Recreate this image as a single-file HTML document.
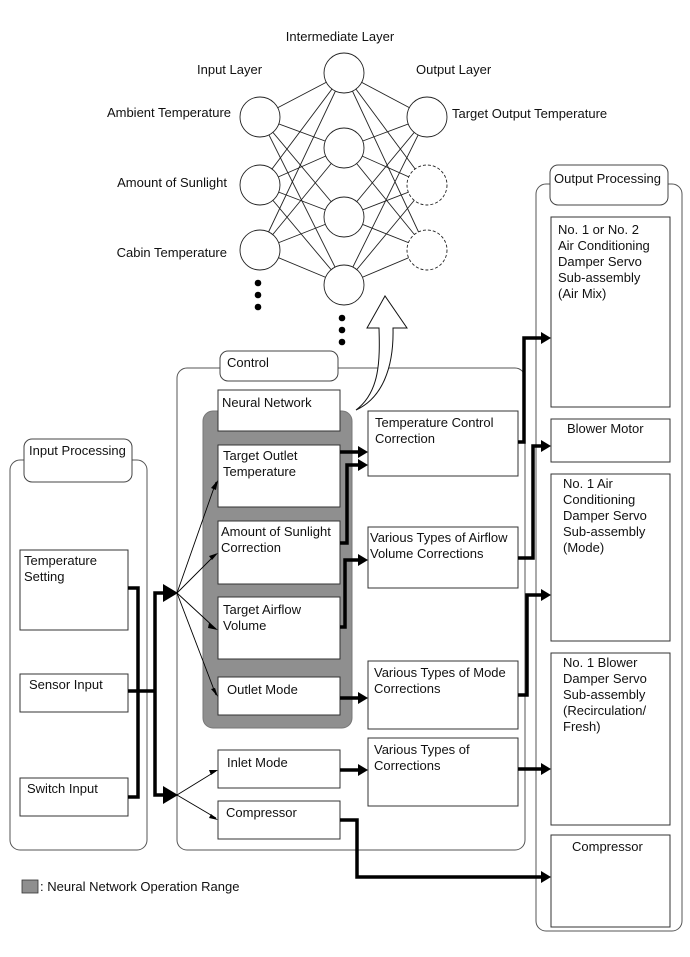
<!DOCTYPE html>
<html><head><meta charset="utf-8"><style>
body{margin:0;background:#fff}
svg text{font-family:"Liberation Sans",Arial,sans-serif;font-size:13px;fill:#111}
</style></head><body>
<svg width="690" height="952" viewBox="0 0 690 952" xmlns="http://www.w3.org/2000/svg">
<g stroke="#222" stroke-width="0.9">
<g id="conn">
<line x1="260" y1="117" x2="344" y2="73"/><line x1="260" y1="117" x2="344" y2="148"/><line x1="260" y1="117" x2="344" y2="217"/><line x1="260" y1="117" x2="344" y2="285"/>
<line x1="260" y1="185" x2="344" y2="73"/><line x1="260" y1="185" x2="344" y2="148"/><line x1="260" y1="185" x2="344" y2="217"/><line x1="260" y1="185" x2="344" y2="285"/>
<line x1="260" y1="250" x2="344" y2="73"/><line x1="260" y1="250" x2="344" y2="148"/><line x1="260" y1="250" x2="344" y2="217"/><line x1="260" y1="250" x2="344" y2="285"/>
<line x1="427" y1="117" x2="344" y2="73"/><line x1="427" y1="117" x2="344" y2="148"/><line x1="427" y1="117" x2="344" y2="217"/><line x1="427" y1="117" x2="344" y2="285"/>
<line x1="427" y1="185" x2="344" y2="73"/><line x1="427" y1="185" x2="344" y2="148"/><line x1="427" y1="185" x2="344" y2="217"/><line x1="427" y1="185" x2="344" y2="285"/>
<line x1="427" y1="250" x2="344" y2="73"/><line x1="427" y1="250" x2="344" y2="148"/><line x1="427" y1="250" x2="344" y2="217"/><line x1="427" y1="250" x2="344" y2="285"/>
</g>
<g fill="#fff">
<circle cx="260" cy="117" r="20"/><circle cx="260" cy="185" r="20"/><circle cx="260" cy="250" r="20"/>
<circle cx="344" cy="73" r="20"/><circle cx="344" cy="148" r="20"/><circle cx="344" cy="217" r="20"/><circle cx="344" cy="285" r="20"/>
<circle cx="427" cy="117" r="20"/>
<circle cx="427" cy="185" r="20" stroke-dasharray="3,2"/><circle cx="427" cy="250" r="20" stroke-dasharray="3,2"/>
</g>
</g>
<g fill="#000">
<circle cx="258" cy="283" r="3.3"/><circle cx="258" cy="295" r="3.3"/><circle cx="258" cy="307" r="3.3"/>
<circle cx="342" cy="318" r="3.3"/><circle cx="342" cy="330" r="3.3"/><circle cx="342" cy="342" r="3.3"/>
</g>
<text x="340" y="41" text-anchor="middle">Intermediate Layer</text>
<text x="197" y="74">Input Layer</text>
<text x="416" y="74">Output Layer</text>
<text x="231" y="117" text-anchor="end">Ambient Temperature</text>
<text x="227" y="187" text-anchor="end">Amount of Sunlight</text>
<text x="227" y="257" text-anchor="end">Cabin Temperature</text>
<text x="452" y="118">Target Output Temperature</text>

<g fill="none" stroke="#555" stroke-width="1">
<rect x="10" y="460" width="137" height="390" rx="10"/>
<rect x="177" y="368" width="348" height="482" rx="10"/>
<rect x="536" y="184" width="146" height="747" rx="10"/>
</g>
<g fill="#fff" stroke="#444" stroke-width="1">
<rect x="24" y="439" width="108" height="43" rx="8"/>
<rect x="220" y="351" width="118" height="30" rx="8"/>
<rect x="550" y="165" width="118" height="40" rx="8"/>
</g>
<text x="29" y="455">Input Processing</text>
<text x="227" y="367">Control</text>
<text x="554" y="183">Output Processing</text>

<rect x="203" y="411" width="149" height="317" rx="10" fill="#8f8f8f" stroke="#777"/>
<rect x="22" y="880" width="16" height="13" fill="#8f8f8f" stroke="#333" stroke-width="0.8"/>
<text x="40" y="891">: Neural Network Operation Range</text>

<path d="M356,410 C380,392 380,360 379,328 L367,328 L385,296 L407,328 L393,328 C394,368 382,398 356,410 Z" fill="#fff" stroke="#111" stroke-width="1"/>

<g fill="#fff" stroke="#333" stroke-width="1">
<rect x="20" y="550" width="108" height="80"/>
<rect x="20" y="674" width="108" height="38"/>
<rect x="20" y="778" width="108" height="38"/>
<rect x="218" y="390" width="122" height="41"/>
<rect x="218" y="445" width="122" height="62"/>
<rect x="218" y="521" width="122" height="63"/>
<rect x="218" y="597" width="122" height="62"/>
<rect x="218" y="677" width="122" height="38"/>
<rect x="218" y="750" width="122" height="38"/>
<rect x="218" y="801" width="122" height="38"/>
<rect x="368" y="411" width="150" height="65"/>
<rect x="368" y="527" width="150" height="61"/>
<rect x="368" y="661" width="150" height="68"/>
<rect x="368" y="738" width="150" height="68"/>
<rect x="551" y="217" width="119" height="190"/>
<rect x="551" y="419" width="119" height="43"/>
<rect x="551" y="474" width="119" height="167"/>
<rect x="551" y="653" width="119" height="172"/>
<rect x="551" y="835" width="119" height="92"/>
</g>
<text x="24" y="565">Temperature</text><text x="24" y="581">Setting</text>
<text x="29" y="689">Sensor Input</text>
<text x="27" y="793">Switch Input</text>
<text x="222" y="407">Neural Network</text>
<text x="223" y="460">Target Outlet</text><text x="223" y="476">Temperature</text>
<text x="221" y="536">Amount of Sunlight</text><text x="221" y="552">Correction</text>
<text x="223" y="614">Target Airflow</text><text x="223" y="630">Volume</text>
<text x="227" y="694">Outlet Mode</text>
<text x="227" y="767">Inlet Mode</text>
<text x="226" y="817">Compressor</text>
<text x="375" y="427">Temperature Control</text><text x="375" y="443">Correction</text>
<text x="370" y="542">Various Types of Airflow</text><text x="370" y="558">Volume Corrections</text>
<text x="374" y="677">Various Types of Mode</text><text x="374" y="693">Corrections</text>
<text x="374" y="754">Various Types of</text><text x="374" y="770">Corrections</text>
<text x="558" y="234">No. 1 or No. 2</text><text x="558" y="250">Air Conditioning</text><text x="558" y="266">Damper Servo</text><text x="558" y="282">Sub-assembly</text><text x="558" y="298">(Air Mix)</text>
<text x="567" y="433">Blower Motor</text>
<text x="563" y="488">No. 1 Air</text><text x="563" y="504">Conditioning</text><text x="563" y="520">Damper Servo</text><text x="563" y="536">Sub-assembly</text><text x="563" y="552">(Mode)</text>
<text x="563" y="667">No. 1 Blower</text><text x="563" y="683">Damper Servo</text><text x="563" y="699">Sub-assembly</text><text x="563" y="715">(Recirculation/</text><text x="563" y="731">Fresh)</text>
<text x="572" y="851">Compressor</text>

<g fill="none" stroke="#000" stroke-width="3.5">
<polyline points="128,588 138,588 138,797 128,797"/>
<line x1="128" y1="691" x2="155" y2="691"/>
<polyline points="165,593 155,593 155,795 165,795"/>
<line x1="340" y1="452" x2="360" y2="452"/>
<polyline points="340,543 347,543 347,465 360,465"/>
<polyline points="340,627 345,627 345,560 360,560"/>
<line x1="340" y1="698" x2="360" y2="698"/>
<line x1="340" y1="770" x2="360" y2="770"/>
<polyline points="518,442 524,442 524,338 543,338"/>
<polyline points="518,558 533,558 533,446 543,446"/>
<polyline points="518,695 527,695 527,595 543,595"/>
<line x1="518" y1="769" x2="543" y2="769"/>
<polyline points="340,820 357,820 357,877 543,877"/>
</g>
<g fill="#000">
<polygon points="163,584 178,593 163,602"/>
<polygon points="163,786 178,795 163,804"/>
<polygon points="358,446 368,452 358,458"/><polygon points="358,459 368,465 358,471"/>
<polygon points="358,554 368,560 358,566"/><polygon points="358,692 368,698 358,704"/>
<polygon points="358,764 368,770 358,776"/>
<polygon points="541,332 551,338 541,344"/><polygon points="541,440 551,446 541,452"/>
<polygon points="541,589 551,595 541,601"/><polygon points="541,763 551,769 541,775"/>
<polygon points="541,871 551,877 541,883"/>
</g>
<g stroke="#000" stroke-width="0.9">
<line x1="177" y1="593" x2="216" y2="482"/><line x1="177" y1="593" x2="216" y2="554"/>
<line x1="177" y1="593" x2="216" y2="629"/><line x1="177" y1="593" x2="216" y2="695"/>
<line x1="177" y1="795" x2="216" y2="771"/><line x1="177" y1="795" x2="216" y2="818"/>
</g>
<g fill="#000">
<polygon points="218,480 211,488 216,490"/>
<polygon points="218,553 209,556 212,560"/>
<polygon points="218,630 209,623 208,628"/>
<polygon points="218,697 211,689 215,688"/>
<polygon points="218,770 209,770 211,775"/>
<polygon points="218,820 211,814 209,818"/>
</g>
</svg>
</body></html>
